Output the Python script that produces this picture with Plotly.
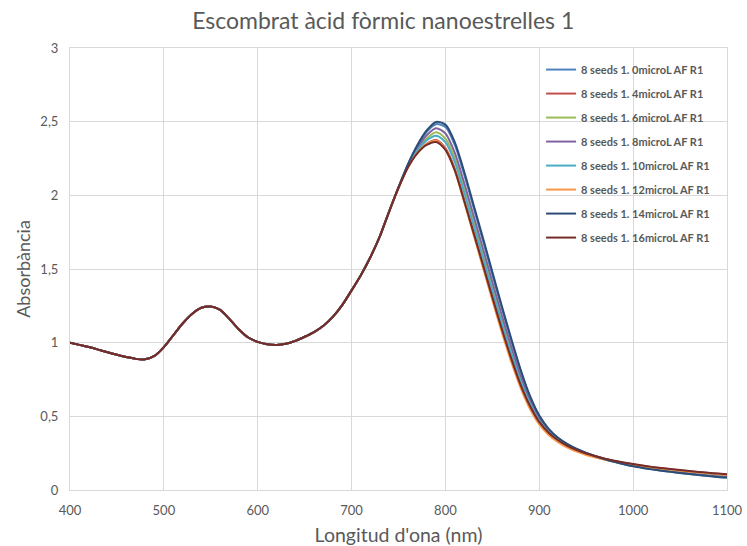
import plotly.graph_objects as go

wavelength = list(range(400, 1101, 10))

# shared part of all spectra (400-740 nm)
common_400_740 = [1.0, 0.985, 0.97, 0.953, 0.935, 0.918, 0.903, 0.89, 0.887, 0.91,
                  0.97, 1.05, 1.13, 1.195, 1.237, 1.245, 1.222, 1.16, 1.09, 1.035,
                  1.005, 0.99, 0.985, 0.992, 1.012, 1.04, 1.072, 1.115, 1.175, 1.255,
                  1.355, 1.46, 1.58, 1.72, 1.89]

# 750-1100 nm per series
s0_750 = [2.055, 2.208, 2.335, 2.431, 2.483, 2.464, 2.342, 2.141, 1.917, 1.692, 1.463, 1.235, 1.017,
          0.81, 0.633, 0.5, 0.412, 0.353, 0.311, 0.278, 0.251, 0.229, 0.209, 0.192, 0.176, 0.162,
          0.151, 0.141, 0.132, 0.124, 0.116, 0.109, 0.102, 0.096, 0.09, 0.085]
s4_750 = [2.05, 2.19, 2.29, 2.35, 2.375, 2.32, 2.18, 1.97, 1.75, 1.53, 1.31, 1.095, 0.895,
          0.715, 0.57, 0.46, 0.387, 0.336, 0.298, 0.269, 0.246, 0.227, 0.211, 0.197, 0.185, 0.174,
          0.164, 0.155, 0.147, 0.14, 0.133, 0.127, 0.121, 0.115, 0.11, 0.105]
s6_750 = [2.052, 2.198, 2.31, 2.386, 2.428, 2.384, 2.252, 2.046, 1.824, 1.602, 1.378, 1.157, 0.949,
          0.757, 0.598, 0.478, 0.398, 0.344, 0.304, 0.273, 0.248, 0.228, 0.21, 0.195, 0.181, 0.169,
          0.159, 0.15, 0.142, 0.134, 0.127, 0.12, 0.114, 0.108, 0.103, 0.098]
s8_750 = [2.053, 2.202, 2.32, 2.408, 2.456, 2.42, 2.288, 2.084, 1.861, 1.638, 1.412, 1.188, 0.976,
          0.778, 0.612, 0.487, 0.404, 0.347, 0.306, 0.275, 0.25, 0.228, 0.21, 0.193, 0.179, 0.166,
          0.156, 0.147, 0.138, 0.13, 0.123, 0.116, 0.11, 0.104, 0.098, 0.093]
s10_750 = [2.051, 2.195, 2.303, 2.373, 2.405, 2.36, 2.225, 2.018, 1.796, 1.575, 1.353, 1.134, 0.929,
           0.741, 0.588, 0.471, 0.394, 0.341, 0.302, 0.272, 0.248, 0.228, 0.21, 0.196, 0.183, 0.171,
           0.161, 0.152, 0.144, 0.137, 0.13, 0.123, 0.117, 0.111, 0.106, 0.101]
s12_750 = [2.05, 2.19, 2.288, 2.347, 2.37, 2.312, 2.168, 1.955, 1.733, 1.51, 1.288, 1.072, 0.872,
           0.695, 0.552, 0.445, 0.374, 0.325, 0.288, 0.26, 0.238, 0.22, 0.205, 0.192, 0.18, 0.17,
           0.161, 0.152, 0.144, 0.137, 0.13, 0.124, 0.118, 0.112, 0.107, 0.102]
s14_750 = [2.055, 2.21, 2.34, 2.44, 2.498, 2.48, 2.36, 2.16, 1.935, 1.71, 1.48, 1.25, 1.03,
           0.82, 0.64, 0.505, 0.415, 0.355, 0.312, 0.279, 0.252, 0.229, 0.209, 0.191, 0.175, 0.161,
           0.15, 0.14, 0.131, 0.123, 0.115, 0.108, 0.101, 0.095, 0.089, 0.084]
s16_750 = [2.05, 2.188, 2.285, 2.342, 2.362, 2.308, 2.17, 1.962, 1.745, 1.527, 1.308, 1.094, 0.895,
           0.716, 0.572, 0.462, 0.389, 0.338, 0.3, 0.271, 0.248, 0.229, 0.213, 0.199, 0.187, 0.176,
           0.166, 0.157, 0.149, 0.142, 0.135, 0.129, 0.123, 0.117, 0.112, 0.107]

series_names = ["8 seeds 1. 0microL AF R1", "8 seeds 1. 4microL AF R1", "8 seeds 1. 6microL AF R1",
                "8 seeds 1. 8microL AF R1", "8 seeds 1. 10microL AF R1", "8 seeds 1. 12microL AF R1",
                "8 seeds 1. 14microL AF R1", "8 seeds 1. 16microL AF R1"]
series_tails = [s0_750, s4_750, s6_750, s8_750, s10_750, s12_750, s14_750, s16_750]
colors = ["#4F81BD", "#C0504D", "#9BBB59", "#8064A2", "#4BACC6", "#F79646", "#2C4D75", "#772C2A"]

fig = go.Figure()
for i, (name, tail, col) in enumerate(zip(series_names, series_tails, colors)):
    fig.add_trace(go.Scatter(
        x=wavelength, y=common_400_740 + tail, mode="lines", name=name,
        line=dict(color=col, width=2, shape="spline", smoothing=0.8),
        legendgroup=f"g{i}",
    ))

font_family = "Lato, 'Open Sans', sans-serif"
fig.update_layout(
    width=747, height=546,
    margin=dict(l=70, r=20, t=48, b=56),
    paper_bgcolor="white", plot_bgcolor="white",
    separators=",.",
    font=dict(family=font_family, color="#595959", size=13),
    title=dict(text="Escombrat àcid fòrmic nanoestrelles 1", x=0.513, xanchor="center",
               y=0.962, yanchor="middle",
               font=dict(family="Lato, sans-serif", size=23, color="#595959")),
    legend=dict(x=0.717, y=0.984, xanchor="left", yanchor="top",
                font=dict(size=11, color="#595959", weight="bold"),
                bgcolor="rgba(0,0,0,0)", tracegroupgap=5, itemwidth=30),
    showlegend=True,
)
fig.update_xaxes(range=[400, 1100], dtick=100, tick0=400, showgrid=True, gridcolor="#D9D9D9",
                 showline=True, linecolor="#D9D9D9", mirror=True, zeroline=False, ticks="",
                 automargin=False, ticklabelstandoff=8,
                 title=dict(text="Longitud d'ona (nm)", font=dict(size=19.5, color="#595959"), standoff=12),
                 tickfont=dict(size=13))
fig.update_yaxes(range=[0, 3], dtick=0.5, tick0=0, showgrid=True, gridcolor="#D9D9D9",
                 showline=True, linecolor="#D9D9D9", mirror=True, zeroline=False, ticks="",
                 automargin=False, ticklabelstandoff=8,
                 title=dict(text="Absorbància", font=dict(size=18, color="#595959"), standoff=5),
                 tickfont=dict(size=13))

fig.write_html("out.html")
